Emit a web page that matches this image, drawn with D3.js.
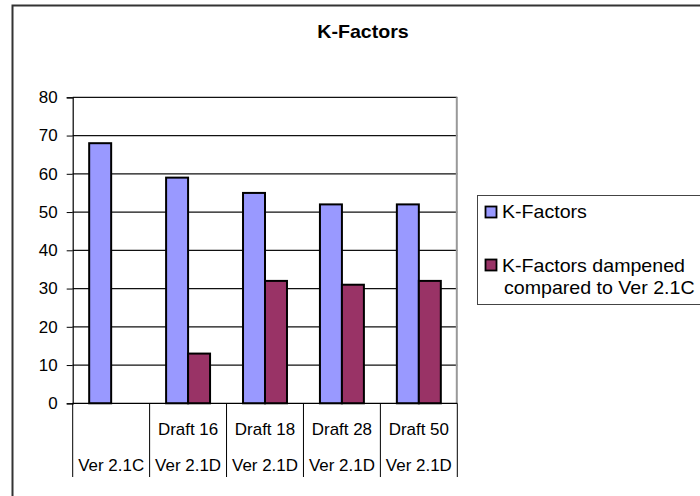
<!DOCTYPE html>
<html>
<head>
<meta charset="utf-8">
<script src="https://cdn.jsdelivr.net/npm/d3@7"></script>
<style>
  html, body { margin: 0; padding: 0; background: #fff; }
  svg { display: block; font-family: Arial, "Liberation Sans", sans-serif; }
</style>
</head>
<body>
<svg id="chart" width="700" height="496"></svg>
<script>
// Chart data
const drafts   = ["", "Draft 16", "Draft 18", "Draft 28", "Draft 50"];
const versions = ["Ver 2.1C", "Ver 2.1D", "Ver 2.1D", "Ver 2.1D", "Ver 2.1D"];
const seriesNames = ["K-Factors", "K-Factors dampened compared to Ver 2.1C"];
const kFactors = [68, 59, 55, 52, 52];
const kDampened = [null, 13, 32, 31, 32];
const yTicks = [0, 10, 20, 30, 40, 50, 60, 70, 80];
const colors = ["#9999FF", "#993366"];

const svg = d3.select("#chart");
const sx = 1.06; // horizontal text stretch

// Outer chart frame
svg.append("rect")
  .attr("x", 12.5).attr("y", 5.5)
  .attr("width", 760).attr("height", 560)
  .attr("fill", "none").attr("stroke", "#333").attr("stroke-width", 2);

// Title
svg.append("text")
  .attr("transform", `translate(363,38) scale(${sx},1)`)
  .attr("text-anchor", "middle")
  .attr("font-size", 18.5).attr("font-weight", "bold")
  .text("K-Factors");

const plot = { left: 72.7, right: 457.3, top: 97.3, bottom: 403.3 };

const x = d3.scaleBand().domain(d3.range(drafts.length))
  .range([plot.left, plot.right]).padding(0);
const bw = x.bandwidth() / 3.5;
const xs = d3.scaleBand().domain([0, 1]).range([0.75 * bw, 2.75 * bw]).padding(0);
const y = d3.scaleLinear().domain([0, 80]).range([plot.bottom, plot.top]);

// Gridlines
svg.append("g").selectAll("line").data(yTicks.filter(d => d > 0)).join("line")
  .attr("x1", plot.left).attr("x2", plot.right)
  .attr("y1", d => y(d)).attr("y2", d => y(d))
  .attr("stroke", "#111").attr("stroke-width", 1.2);

// Plot area border (right side)
svg.append("line")
  .attr("x1", plot.right - 0.5).attr("x2", plot.right - 0.5)
  .attr("y1", plot.top).attr("y2", plot.bottom)
  .attr("stroke", "#999").attr("stroke-width", 2);

// Bars
const rows = d3.range(drafts.length).map(i => [kFactors[i], kDampened[i]]);
const groups = svg.append("g").selectAll("g").data(rows).join("g")
  .attr("transform", (d, i) => `translate(${x(i)},0)`);
groups.selectAll("rect")
  .data(d => d.map((v, s) => ({ v, s })).filter(e => e.v != null))
  .join("rect")
  .attr("x", d => xs(d.s)).attr("width", xs.bandwidth())
  .attr("y", d => y(d.v)).attr("height", d => y(0) - y(d.v))
  .attr("fill", d => colors[d.s])
  .attr("stroke", "#000").attr("stroke-width", 2);

// Y axis
const yAxis = svg.append("g").attr("transform", `translate(${plot.left},0)`)
  .call(d3.axisLeft(y).tickValues(yTicks).tickSize(6).tickPadding(9));
yAxis.select(".domain").attr("stroke", "#000").attr("stroke-width", 1.2);
yAxis.selectAll(".tick line").attr("stroke", "#000");
yAxis.selectAll(".tick text")
  .attr("font-size", 16).attr("fill", "#000")
  .attr("font-family", "Arial, 'Liberation Sans', sans-serif")
  .attr("dy", "0.34em")
  .attr("transform", `scale(${sx},1)`)
  .attr("x", -15 / sx);

// X axis line
svg.append("line")
  .attr("x1", plot.left).attr("x2", plot.right)
  .attr("y1", plot.bottom).attr("y2", plot.bottom)
  .attr("stroke", "#000").attr("stroke-width", 1.2);

// Category dividers
const bounds = d3.range(drafts.length + 1).map(i => i < drafts.length ? x(i) : plot.right);
svg.append("g").selectAll("line").data(bounds).join("line")
  .attr("x1", d => d).attr("x2", d => d)
  .attr("y1", plot.bottom).attr("y2", 477)
  .attr("stroke", "#000").attr("stroke-width", 1);

// Multi-level category labels
const labels = svg.append("g").attr("font-size", 16).attr("text-anchor", "middle");
labels.selectAll("text.d").data(drafts).join("text").attr("class", "d")
  .attr("transform", (d, i) => `translate(${x(i) + x.bandwidth() / 2},434.5) scale(${sx},1)`)
  .text(d => d);
labels.selectAll("text.v").data(versions).join("text").attr("class", "v")
  .attr("transform", (d, i) => `translate(${x(i) + x.bandwidth() / 2},470.5) scale(${sx},1)`)
  .text(d => d);

// Legend
const lg = svg.append("g");
lg.append("rect")
  .attr("x", 477.5).attr("y", 195.5).attr("width", 240).attr("height", 109)
  .attr("fill", "#fff").attr("stroke", "#444").attr("stroke-width", 1);
const legendItems = [
  { name: seriesNames[0], lines: ["K-Factors"], top: 206.5, base: 218 },
  { name: seriesNames[1], lines: ["K-Factors dampened", "compared to Ver 2.1C"], top: 259.5, base: 272 }
];
legendItems.forEach((it, s) => {
  lg.append("rect")
    .attr("x", 485.5).attr("y", it.top).attr("width", 11).attr("height", 11)
    .attr("fill", colors[s]).attr("stroke", "#000").attr("stroke-width", 1.8);
  it.lines.forEach((t, k) => {
    lg.append("text")
      .attr("transform", `translate(${k === 0 ? 502 : 504},${it.base + k * 21.5}) scale(${sx},1)`)
      .attr("font-size", 18.5)
      .text(t);
  });
});
</script>
</body>
</html>
